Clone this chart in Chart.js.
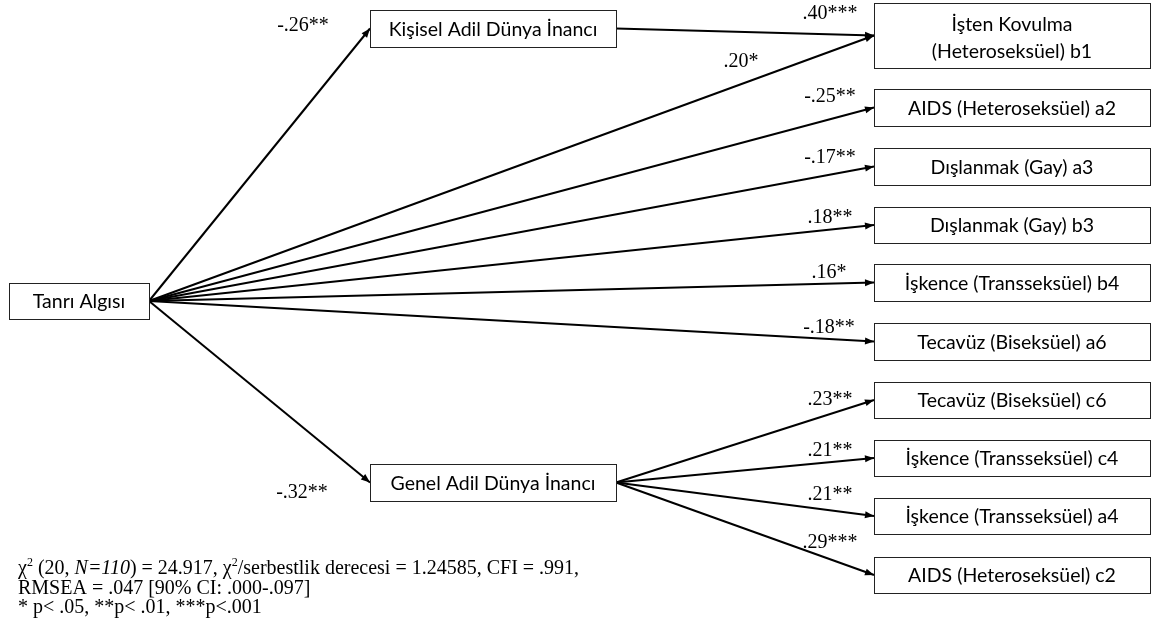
<!DOCTYPE html>
<html>
<head>
<meta charset="utf-8">
<script src="https://cdn.jsdelivr.net/npm/chart.js@4/dist/chart.umd.min.js"></script>
<style>
  html, body { margin: 0; padding: 0; background: #fff; }
  #wrap { width: 1152px; height: 632px; }
</style>
</head>
<body>
<div id="wrap"><canvas id="diagram" width="1152" height="632"></canvas></div>
<script>
'use strict';

// variables (boxes)
const nodeNames = [
  'Tanrı Algısı',
  'Kişisel Adil Dünya İnancı',
  'Genel Adil Dünya İnancı',
  'İşten Kovulma\n(Heteroseksüel) b1',
  'AIDS (Heteroseksüel) a2',
  'Dışlanmak (Gay) a3',
  'Dışlanmak (Gay) b3',
  'İşkence (Transseksüel) b4',
  'Tecavüz (Biseksüel) a6',
  'Tecavüz (Biseksüel) c6',
  'İşkence (Transseksüel) c4',
  'İşkence (Transseksüel) a4',
  'AIDS (Heteroseksüel) c2'
];

// paths: index into nodeNames
const pathFrom  = [0, 1, 0, 0, 0, 0, 0, 0, 0, 2, 2, 2, 2];
const pathTo    = [1, 3, 3, 4, 5, 6, 7, 8, 2, 9, 10, 11, 12];
const pathCoef  = [-0.26, 0.40, 0.20, -0.25, -0.17, 0.18, 0.16, -0.18, -0.32, 0.23, 0.21, 0.21, 0.29];
const pathStars = ['**', '***', '*', '**', '**', '**', '*', '**', '**', '**', '**', '**', '***'];

// model fit notes
const fitStats = { df: 20, n: 110, chi2: '24.917', ratio: '1.24585', cfi: '.991', rmsea: '.047', ci: '.000-.097' };

// ---- layout (diagram coordinates, same as pixels) ----
const boxes = [
  [9, 283, 149, 319],
  [370, 10, 616, 47],
  [370, 464, 616, 501],
  [874, 3, 1150, 68],
  [874, 89, 1150, 126],
  [874, 148, 1150, 185],
  [874, 207, 1150, 243],
  [874, 264, 1150, 301],
  [874, 323, 1150, 360],
  [874, 382, 1150, 418],
  [874, 440, 1150, 476],
  [874, 498, 1150, 534],
  [874, 557, 1150, 593]
];
const labelPos = [
  [303, 26], [830, 14], [741, 62], [830, 97], [830, 158], [830, 218],
  [829, 273], [829, 328], [302, 493], [830, 400], [830, 451], [830, 495], [830, 543]
];

function coefText(v, s) {
  return (v < 0 ? '-' : '') + Math.abs(v).toFixed(2).replace(/^0/, '') + s;
}

function startOf(i) {
  const b = boxes[i];
  return { x: b[2], y: (b[1] + b[3]) / 2 };
}
function endOf(i) {
  const b = boxes[i];
  return { x: b[0], y: (b[1] + b[3]) / 2 };
}

const datasets = pathFrom.map(function (f, k) {
  const a = startOf(f), b = endOf(pathTo[k]);
  if (f === 0) { a.y = 301; }
  return {
    label: coefText(pathCoef[k], pathStars[k]),
    data: [a, b],
    showLine: true,
    borderColor: '#000',
    borderWidth: 2,
    pointRadius: 0,
    fill: false
  };
});

const diagramPlugin = {
  id: 'diagram',
  afterDatasetsDraw(chart) {
    const ctx = chart.ctx;
    const xs = chart.scales.x, ys = chart.scales.y;
    const px = v => xs.getPixelForValue(v);
    const py = v => ys.getPixelForValue(v);
    ctx.save();

    // arrow heads
    chart.data.datasets.forEach(function (ds) {
      const p0 = ds.data[0], p1 = ds.data[1];
      const x0 = px(p0.x), y0 = py(p0.y), x1 = px(p1.x), y1 = py(p1.y);
      const ang = Math.atan2(y1 - y0, x1 - x0);
      const len = 9, half = 3.5;
      ctx.beginPath();
      ctx.moveTo(x1, y1);
      ctx.lineTo(x1 - len * Math.cos(ang) + half * Math.sin(ang), y1 - len * Math.sin(ang) - half * Math.cos(ang));
      ctx.lineTo(x1 - len * Math.cos(ang) - half * Math.sin(ang), y1 - len * Math.sin(ang) + half * Math.cos(ang));
      ctx.closePath();
      ctx.fillStyle = '#000';
      ctx.fill();
    });

    // boxes
    nodeNames.forEach(function (name, i) {
      const b = boxes[i];
      const x0 = px(b[0]), y0 = py(b[1]), x1 = px(b[2]), y1 = py(b[3]);
      ctx.fillStyle = '#fff';
      ctx.fillRect(x0, y0, x1 - x0, y1 - y0);
      ctx.strokeStyle = '#222';
      ctx.lineWidth = 1;
      ctx.strokeRect(Math.round(x0) + 0.5, Math.round(y0) + 0.5, Math.round(x1 - x0), Math.round(y1 - y0));
      ctx.fillStyle = '#000';
      ctx.font = '19.5px Lato';
      ctx.textAlign = 'center';
      ctx.textBaseline = 'middle';
      const lines = name.split('\n');
      const cy = (y0 + y1) / 2, lh = 27;
      lines.forEach(function (t, j) {
        ctx.fillText(t, (x0 + x1) / 2, cy + (j - (lines.length - 1) / 2) * lh + (lines.length > 1 ? 3 : 1));
      });
    });

    // coefficients
    ctx.font = '20px "Liberation Serif"';
    ctx.fillStyle = '#000';
    ctx.textAlign = 'center';
    ctx.textBaseline = 'middle';
    chart.data.datasets.forEach(function (ds, k) {
      ctx.fillText(ds.label, px(labelPos[k][0]), py(labelPos[k][1]));
    });

    // fit notes
    const serif = '"Liberation Serif"';
    const rows = [
      [['χ', ''], ['2', 'sup'], [' (' + fitStats.df + ', ', ''], ['N=' + fitStats.n, 'it'],
       [') = ' + fitStats.chi2 + ', χ', ''], ['2', 'sup'],
       ['/serbestlik derecesi = ' + fitStats.ratio + ', CFI = ' + fitStats.cfi + ',', '']],
      [['RMSEA = ' + fitStats.rmsea + ' [90% CI: ' + fitStats.ci + ']', '']],
      [['* p< .05, **p< .01, ***p<.001', '']]
    ];
    const rowY = [568, 588, 607];
    ctx.textAlign = 'left';
    ctx.textBaseline = 'alphabetic';
    rows.forEach(function (runs, r) {
      let x = px(18);
      const y = py(rowY[r]) + 6;
      runs.forEach(function (run) {
        if (run[1] === 'sup') {
          ctx.font = '12px ' + serif;
          ctx.fillText(run[0], x, y - 8);
        } else if (run[1] === 'it') {
          ctx.font = 'italic 20px ' + serif;
          ctx.fillText(run[0], x, y);
        } else {
          ctx.font = '20px ' + serif;
          ctx.fillText(run[0], x, y);
        }
        x += ctx.measureText(run[0]).width;
      });
    });

    ctx.restore();
  }
};

new Chart(document.getElementById('diagram'), {
  type: 'scatter',
  data: { datasets: datasets },
  options: {
    responsive: false,
    animation: false,
    layout: { padding: 0 },
    plugins: { legend: { display: false }, tooltip: { enabled: false } },
    scales: {
      x: { type: 'linear', min: 0, max: 1152, display: false },
      y: { type: 'linear', min: 0, max: 632, reverse: true, display: false }
    }
  },
  plugins: [diagramPlugin]
});
</script>
</body>
</html>
